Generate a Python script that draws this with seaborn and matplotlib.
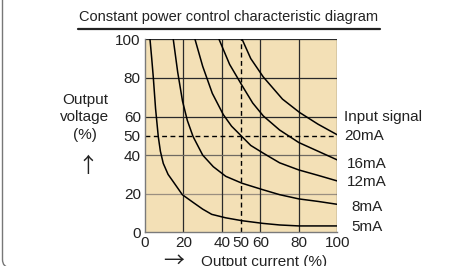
import pandas as pd
import matplotlib.pyplot as plt
import matplotlib.transforms as mtransforms
from matplotlib.patches import FancyBboxPatch
import seaborn as sns

# data (output current %, output voltage %)
signals = ['20mA', '16mA', '12mA', '8mA', '5mA']
current_20 = [50.5, 55, 61.5, 71.5, 80.5, 90, 100]
voltage_20 = [100, 90, 80.5, 69, 62, 56, 50.5]
current_16 = [38.5, 44, 50.5, 56, 61.5, 70, 80, 90, 100]
voltage_16 = [100, 87, 76, 67, 60.3, 53, 46.5, 42, 37.5]
current_12 = [26, 30, 35, 40.7, 45, 50.5, 55, 61.5, 70, 80, 90, 100]
voltage_12 = [100, 86, 72, 61, 55, 49.5, 45, 41, 36, 32.3, 29.5, 26.6]
current_8 = [14.7, 17, 19.5, 22, 25, 30, 35.5, 42, 50.5, 61.5, 70, 80, 90, 100]
voltage_8 = [100, 83, 68, 58, 49.6, 40, 34, 29, 25.4, 22, 19.5, 17.3, 16, 14.5]
current_5 = [2.6, 3.5, 4.3, 5.5, 6.9, 8, 9.5, 12, 14.7, 19.4, 25, 30, 34.7, 42, 50.5, 61.5, 70, 80, 100]
voltage_5 = [100, 90, 80.5, 64, 49.6, 42, 35.7, 30, 26.2, 19.5, 15.5, 12, 9.3, 7.5, 6, 4.6, 3.8, 3.3, 3.3]
x_ticks = [0, 20, 40, 50, 60, 80, 100]
y_ticks = [0, 20, 40, 50, 60, 80, 100]

curves = {
    '20mA': (current_20, voltage_20),
    '16mA': (current_16, voltage_16),
    '12mA': (current_12, voltage_12),
    '8mA': (current_8, voltage_8),
    '5mA': (current_5, voltage_5),
}
rows = []
for sig in signals:
    xs, ys = curves[sig]
    for i, (x, y) in enumerate(zip(xs, ys)):
        rows.append({'signal': sig, 'order': i, 'current': x, 'voltage': y})
df = pd.DataFrame(rows)

sns.set_style('white')
plt.rcParams['font.family'] = ['Liberation Sans', 'DejaVu Sans']
fs = 11
txt = '#222222'

fig = plt.figure(figsize=(4.49, 2.66), dpi=100)
ax = fig.add_axes([145 / 449, 1 - 232.3 / 266, 192.3 / 449, 193 / 266])
ax.set_facecolor('#F3E0B6')

# grid
grid_col = {20: '#9a8f80', 40: '#6f6a62', 60: '#2a2a2a', 80: '#2a2a2a', 100: '#2a2a2a'}
for v in [20, 40, 60, 80, 100]:
    ax.axvline(v, color='#2a2a2a', lw=0.9, zorder=1)
    ax.axhline(v, color=grid_col[v], lw=0.9, zorder=1)
ax.axvline(50, color='black', lw=1.0, ls=(0, (3.5, 2.5)), zorder=2)
ax.axhline(50, color='black', lw=1.0, ls=(0, (3.5, 2.5)), zorder=2)

sns.lineplot(data=df, x='current', y='voltage', hue='signal', units='signal',
             estimator=None, sort=False, palette=['black'] * len(signals),
             legend=False, lw=1.1, ax=ax, zorder=3)

ax.set_xlim(0, 100)
ax.set_ylim(0, 100)
ax.set_xticks(x_ticks)
ax.set_yticks(y_ticks)
ax.tick_params(length=0, labelsize=fs, pad=3, colors=txt)
ax.set_xlabel('')
ax.set_ylabel('')
for s in ['left', 'bottom']:
    ax.spines[s].set_color('#7a7a7a')
    ax.spines[s].set_linewidth(1.0)
for s in ['top', 'right']:
    ax.spines[s].set_visible(False)

H = 266.0
def fy(py):
    return 1 - py / H

# title with underline
fig.text(229 / 449, fy(17), 'Constant power control characteristic diagram',
         ha='center', va='center', fontsize=10.5, color=txt)
fig.add_artist(plt.Line2D([78 / 449, 380 / 449], [fy(29), fy(29)], color=txt, lw=1.6))

# y label
fig.text(85 / 449, fy(100), 'Output', ha='center', va='center', fontsize=fs, color=txt)
fig.text(85 / 449, fy(117), 'voltage', ha='center', va='center', fontsize=fs, color=txt)
fig.text(85 / 449, fy(135), '(%)', ha='center', va='center', fontsize=fs, color=txt)
arrow_font = ['Noto Sans CJK JP', 'DejaVu Sans']
fig.text(88 / 449, fy(166), '↑', ha='center', va='center', fontsize=15, color=txt, family=arrow_font)

# x label (cut at bottom edge as in the reference)
fig.text(174 / 449, fy(261), '→', ha='center', va='center', fontsize=15, color=txt, family=arrow_font)
fig.text(264 / 449, fy(262), 'Output current (%)', ha='center', va='center', fontsize=fs, color=txt)

# right-side labels
fig.text(344 / 449, fy(117), 'Input signal', ha='left', va='center', fontsize=fs, color=txt)
label_pos = {'20mA': (344, 136), '16mA': (347, 164), '12mA': (347, 182), '8mA': (351, 207), '5mA': (351, 227)}
for sig in signals:
    px, py = label_pos[sig]
    fig.text(px / 449, fy(py), sig, ha='left', va='center', fontsize=fs, color=txt)

# rounded frame (only left/bottom-left corner visible)
frame = FancyBboxPatch((2.5, -1.5), 600, 400, boxstyle='round,pad=0,rounding_size=8',
                       transform=mtransforms.IdentityTransform(), fill=False,
                       edgecolor='#777777', lw=1.0)
fig.add_artist(frame)

fig.savefig('out.png', dpi=100, facecolor='white')
